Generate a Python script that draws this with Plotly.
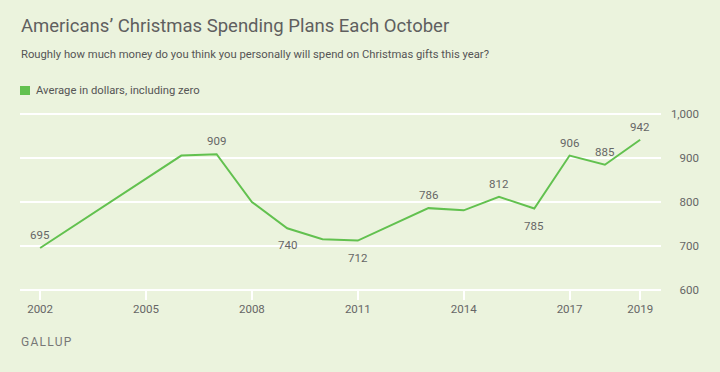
import plotly.graph_objects as go

# ---- data ----
years = [2002, 2006, 2007, 2008, 2009, 2010, 2011, 2013, 2014, 2015, 2016, 2017, 2018, 2019]
spending = [695, 906, 909, 800, 740, 715, 712, 786, 781, 812, 785, 906, 885, 942]
labels = ["695", "", "909", "", "740", "", "712", "786", "", "812", "785", "906", "885", "942"]
label_side = ["above", "", "above", "", "below", "", "below", "above", "", "above", "below", "above", "above", "above"]
x_tickvals = [2002, 2005, 2008, 2011, 2014, 2017, 2019]
y_tickvals = [600, 700, 800, 900, 1000]
y_ticktext = ["600", "700", "800", "900", "1,000"]

series_name = "Average in dollars, including zero"
title_text = "Americans\u2019 Christmas Spending Plans Each October"
subtitle_text = "Roughly how much money do you think you personally will spend on Christmas gifts this year?"
source_text = "GALLUP"

# ---- style ----
BG = "#ebf3dd"
GREEN = "#62c14f"
TXT = "#666666"
FONT = "Roboto"

W, H = 720, 372
ML, MR, MT, MB = 20, 21, 110, 78
PW = W - ML - MR
PH = H - MT - MB

def px_x(px):
    return (px - ML) / PW

def px_y(py):
    return (H - MB - py) / PH

fig = go.Figure()
fig.add_trace(go.Scatter(
    x=years, y=spending, mode="lines",
    line=dict(color=GREEN, width=2),
    showlegend=False, hoverinfo="x+y",
))

annotations = []
for x, y, t, s in zip(years, spending, labels, label_side):
    if not t:
        continue
    annotations.append(dict(
        x=x, y=y, xref="x", yref="y", text=t, showarrow=False,
        yshift=13 if s == "above" else -17,
        font=dict(family=FONT, size=11.5, color=TXT),
    ))

annotations += [
    dict(x=px_x(18.5), y=px_y(26), xref="paper", yref="paper", text=title_text,
         showarrow=False, xanchor="left", yanchor="middle",
         font=dict(family=FONT, size=18.5, color="#5f5f5f")),
    dict(x=px_x(19), y=px_y(55), xref="paper", yref="paper", text=subtitle_text,
         showarrow=False, xanchor="left", yanchor="middle",
         font=dict(family=FONT, size=11.25, color="#555555")),
    dict(x=px_x(33.5), y=px_y(90), xref="paper", yref="paper", text=series_name,
         showarrow=False, xanchor="left", yanchor="middle",
         font=dict(family=FONT, size=11.25, color="#555555")),
    dict(x=px_x(19), y=px_y(342), xref="paper", yref="paper",
         text="\u200a".join(source_text),
         showarrow=False, xanchor="left", yanchor="middle",
         font=dict(family=FONT, size=12, color="#777777")),
]

shapes = [dict(type="rect", xref="paper", yref="paper",
               x0=px_x(20), x1=px_x(30), y0=px_y(95), y1=px_y(86),
               fillcolor=GREEN, line=dict(width=0))]

x_pos = px_y(289.6)

fig.update_layout(
    width=W, height=H,
    margin=dict(l=ML, r=MR, t=MT, b=MB, autoexpand=False),
    paper_bgcolor=BG, plot_bgcolor=BG,
    font=dict(family=FONT, color=TXT, size=12),
    annotations=annotations, shapes=shapes,
    xaxis=dict(
        range=[2001.43, 2019.59], domain=[0, px_x(661)],
        anchor="free", position=x_pos,
        tickmode="array", tickvals=x_tickvals,
        ticks="outside", ticklen=9, tickwidth=2, tickcolor="white",
        showgrid=False, zeroline=False, showline=False,
        tickfont=dict(family=FONT, size=11.5, color=TXT),
        automargin=False,
    ),
    yaxis=dict(
        range=[590, 1010], anchor="free", position=1, side="left",
        tickmode="array", tickvals=y_tickvals, ticktext=y_ticktext,
        ticks="", showgrid=True, gridcolor="white", gridwidth=2,
        zeroline=False, showline=False,
        tickfont=dict(family=FONT, size=11.5, color=TXT),
        automargin=False,
    ),
)

fig.write_html(
    "out.html",
    config={"displayModeBar": False},
    post_script="document.body.style.margin='0';document.body.style.overflow='hidden';",
)
